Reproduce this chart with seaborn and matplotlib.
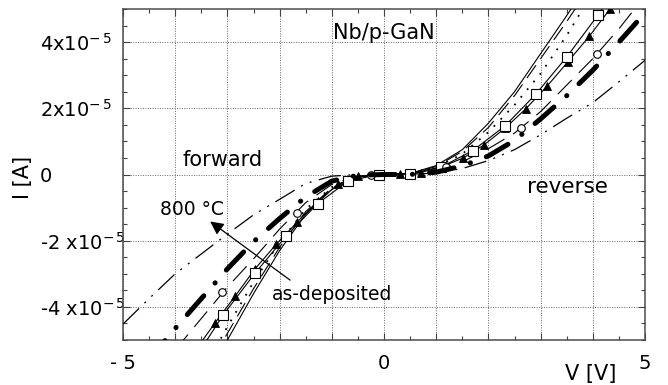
import numpy as np
import matplotlib
matplotlib.use("Agg")
import matplotlib.pyplot as plt
from matplotlib.ticker import MultipleLocator
import seaborn as sns

# Current values are given in units of 1e-5 A
SCALE = 1e-5

# as-deposited (thin solid)
V_SOLID = [-3.5, -3.0, -2.5, -2.0, -1.5, -1.0, -0.5, 0.0, 0.5, 1.0, 1.5, 2.0, 2.5, 3.0, 3.5, 4.0]
I_SOLID = [-6.4, -5.0, -3.6, -2.3, -1.2, -0.45, -0.08, 0.0, 0.03, 0.27, 0.75, 1.55, 2.5, 3.65, 4.8, 6.0]

# long-dash curve close to the as-deposited one
V_LDASH = [-3.5, -3.0, -2.5, -2.0, -1.5, -1.0, -0.5, 0.0, 0.5, 1.0, 1.5, 2.0, 2.5, 3.0, 3.5, 4.0]
I_LDASH = [-6.1, -4.8, -3.45, -2.2, -1.12, -0.4, -0.06, 0.0, 0.03, 0.24, 0.7, 1.42, 2.38, 3.5, 4.62, 5.8]

# dotted curve
V_DOT = [-3.5, -3.0, -2.5, -2.0, -1.5, -1.0, -0.5, 0.0, 0.5, 1.0, 1.5, 2.0, 2.5, 3.0, 3.5, 4.0]
I_DOT = [-6.0, -4.6, -3.25, -2.05, -1.05, -0.38, -0.06, 0.0, 0.03, 0.22, 0.62, 1.28, 2.1, 3.05, 4.2, 5.5]

# open squares
V_SQ = [-3.68, -3.08, -2.47, -1.87, -1.27, -0.69, -0.1, 0.5, 1.1, 1.7, 2.32, 2.91, 3.5, 4.1, 4.7]
I_SQ = [-5.7, -4.24, -2.98, -1.85, -0.88, -0.2, 0.0, 0.03, 0.23, 0.72, 1.47, 2.43, 3.55, 4.82, 6.2]

# filled triangles
V_TRI = [-3.63, -3.24, -2.85, -2.47, -2.06, -1.67, -1.27, -0.88, -0.49, -0.1, 0.3, 0.7,
         1.1, 1.52, 1.92, 2.32, 2.72, 3.12, 3.52, 3.93, 4.33]
I_TRI = [-5.35, -4.49, -3.67, -2.85, -2.1, -1.45, -0.8, -0.3, -0.05, 0.0, 0.01, 0.06,
         0.23, 0.5, 0.9, 1.4, 1.99, 2.66, 3.4, 4.17, 5.0]

# open circles on a thin dashed curve
V_CIRC_LINE = [-4.0, -3.5, -3.0, -2.5, -2.0, -1.5, -1.0, -0.5, 0.0, 0.5, 1.0, 1.5, 2.0,
               2.5, 3.0, 3.5, 4.0, 4.5, 5.0]
I_CIRC_LINE = [-5.3, -4.35, -3.4, -2.55, -1.65, -0.85, -0.3, -0.04, 0.0, 0.02, 0.15, 0.38,
               0.78, 1.25, 1.9, 2.7, 3.5, 4.4, 5.4]
V_CIRC = [-3.11, -1.67, -0.25, 1.18, 2.63, 4.09]
I_CIRC = [-3.56, -1.15, -0.01, 0.23, 1.41, 3.64]

# heavy dash-dot curve
V_THICK = [-4.5, -4.0, -3.5, -3.0, -2.5, -2.0, -1.5, -1.0, -0.5, 0.0, 0.5, 1.0, 1.5,
           2.0, 2.5, 3.0, 3.5, 4.0, 4.5, 5.0]
I_THICK = [-5.6, -4.65, -3.75, -2.85, -2.03, -1.33, -0.68, -0.2, -0.02, 0.0, 0.0, 0.07,
           0.26, 0.56, 1.03, 1.68, 2.38, 3.15, 4.0, 4.88]

# 800 C (dash-dot-dot)
V_800 = [-5.0, -4.5, -4.0, -3.5, -3.0, -2.5, -2.0, -1.5, -1.0, -0.5, 0.0, 0.5, 1.0, 1.5,
         2.0, 2.5, 3.0, 3.5, 4.0, 4.5, 5.0]
I_800 = [-4.52, -3.75, -3.0, -2.4, -1.8, -1.22, -0.75, -0.27, -0.05, 0.0, 0.0, 0.0, 0.05,
         0.18, 0.42, 0.75, 1.2, 1.7, 2.17, 2.8, 3.45]

X_TICKS = [-5, -4, -3, -2, -1, 0, 1, 2, 3, 4, 5]
X_TICK_LABELS = ["- 5", "", "", "", "", "0", "", "", "", "", "5"]
Y_TICKS = [-4, -2, 0, 2, 4]
Y_TICK_LABELS = ["-4 x10$^{-\\,5}$", "-2 x10$^{-\\,5}$", "0", "2x10$^{-\\,5}$", "4x10$^{-\\,5}$"]

sns.set_theme(style="ticks", rc={"text.color": "black", "axes.labelcolor": "black",
                                 "xtick.color": "black", "ytick.color": "black"})
plt.rcParams["font.family"] = ["DejaVu Sans"]
plt.rcParams["mathtext.fontset"] = "dejavusans"

fig = plt.figure(figsize=(6.68, 3.85), dpi=100)
ax = fig.add_axes([123 / 668, 45 / 385, 522 / 668, 331 / 385])


def draw(v, i, **style):
    sns.lineplot(x=np.asarray(v), y=np.asarray(i) * SCALE, ax=ax, estimator=None,
                 sort=False, color="black", **style)


thin = 0.8
draw(V_800, I_800, lw=0.9, linestyle=(0, (18, 6, 1.6, 6, 1.6, 6)), zorder=3)
draw(V_CIRC_LINE, I_CIRC_LINE, lw=thin, linestyle=(0, (18, 9)), zorder=3)
draw(V_LDASH, I_LDASH, lw=thin, linestyle=(0, (14, 7)), zorder=3)
draw(V_DOT, I_DOT, lw=1.3, linestyle=(0, (1, 4.5)), zorder=3)
draw(V_SOLID, I_SOLID, lw=thin, linestyle="-", zorder=3)
draw(V_TRI, I_TRI, lw=thin, linestyle="-", marker="^", markersize=5.5,
     markerfacecolor="black", markeredgecolor="black", markeredgewidth=0.6, zorder=4)
draw(V_SQ, I_SQ, lw=thin, linestyle="-", marker="s", markersize=6.5,
     markerfacecolor="white", markeredgecolor="black", markeredgewidth=0.8, zorder=5)
sns.scatterplot(x=np.asarray(V_CIRC), y=np.asarray(I_CIRC) * SCALE, ax=ax, marker="o",
                s=30, color="white", edgecolor="black", linewidth=0.8, zorder=5)
draw(V_THICK, I_THICK, lw=3.6, linestyle=(0, (5, 3.4, 0.05, 3.4)),
     dash_capstyle="round", zorder=6)

ax.set_xlim(-5, 5)
ax.set_ylim(-5 * SCALE, 5 * SCALE)
ax.set_xticks(X_TICKS, X_TICK_LABELS)
ax.set_yticks([t * SCALE for t in Y_TICKS], Y_TICK_LABELS, ha="left")
ax.xaxis.set_minor_locator(MultipleLocator(0.5))
ax.yaxis.set_minor_locator(MultipleLocator(0.5 * SCALE))
ax.tick_params(which="both", direction="in", top=True, right=True, color="0.25", width=0.8)
ax.tick_params(which="major", length=5)
ax.tick_params(which="minor", length=3)
ax.tick_params(axis="x", which="major", pad=10, labelsize=14, labelcolor="black")
ax.tick_params(axis="y", which="major", pad=60, labelsize=14, labelcolor="black")

ax.grid(True, which="major", color="0.4", lw=0.7, linestyle=(0, (1, 1.5)))
ax.set_axisbelow(True)
for s in ax.spines.values():
    s.set_color("0.3")
    s.set_linewidth(1.1)

ax.set_xlabel("V [V]", fontsize=15, color="black")
ax.xaxis.set_label_coords(0.895, -0.072)
ax.set_ylabel("I [A]", fontsize=15, color="black")
ax.yaxis.set_label_coords(-0.172, 0.49)

ax.text(0.0, 4.29 * SCALE, "Nb/p-GaN", fontsize=15, ha="center", va="center", color="black")
ax.text(-3.1, 0.45 * SCALE, "forward", fontsize=15, ha="center", va="center", color="black")
ax.text(3.52, -0.38 * SCALE, "reverse", fontsize=15.5, ha="center", va="center", color="black")
ax.text(-3.68, -1.05 * SCALE, "800 °C", fontsize=13.5, ha="center", va="center", color="black")
ax.text(-1.0, -3.64 * SCALE, "as-deposited", fontsize=13.5, ha="center", va="center",
        color="black")
ax.annotate("", xy=(-3.33, -1.42 * SCALE), xytext=(-1.80, -3.19 * SCALE),
            arrowprops=dict(arrowstyle="-|>", color="black", lw=0.9,
                            mutation_scale=20, shrinkA=0, shrinkB=0))

fig.savefig("out.png", dpi=100)
